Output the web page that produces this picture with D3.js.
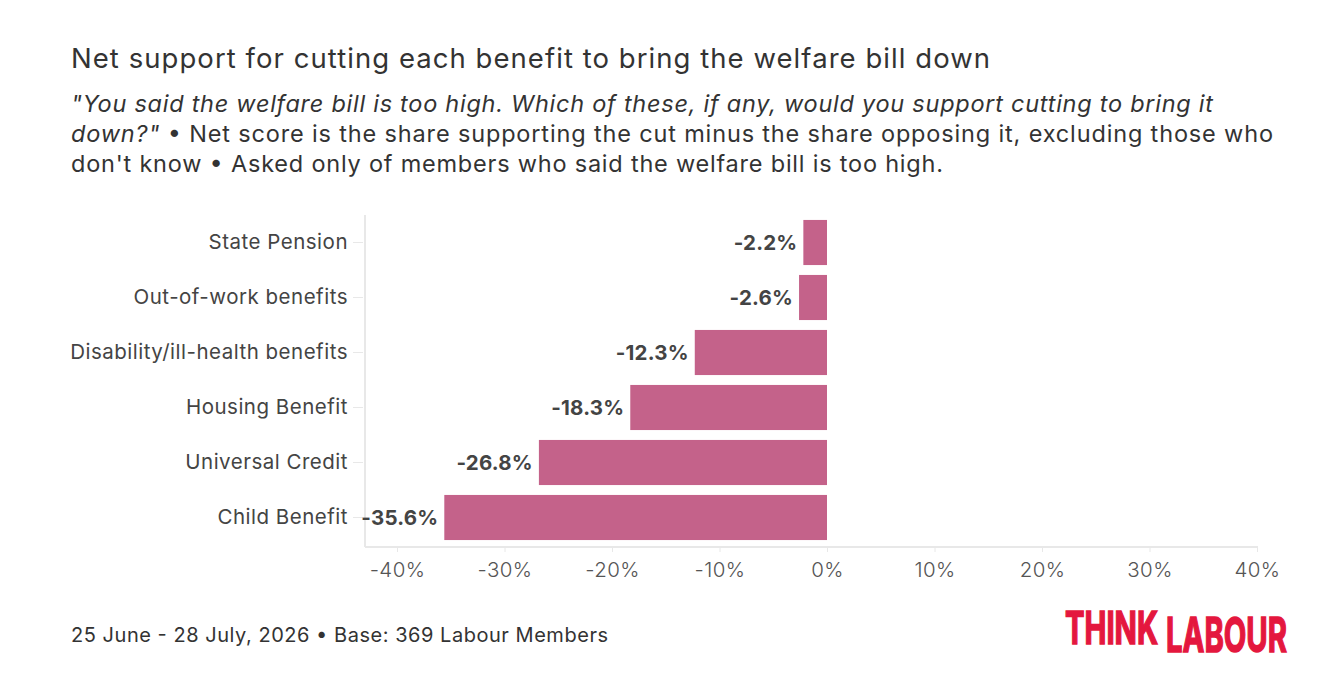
<!DOCTYPE html>
<html>
<head>
<meta charset="utf-8">
<script src="https://cdn.jsdelivr.net/npm/d3@7"></script>
<style>
  body { margin: 0; background: #fff; }
  svg text { font-family: Inter, Roboto, "Noto Sans", sans-serif; }
</style>
</head>
<body>
<svg id="chart" width="1327" height="676"></svg>
<script>
// benefits, top to bottom
var categories = ["State Pension", "Out-of-work benefits", "Disability/ill-health benefits",
  "Housing Benefit", "Universal Credit", "Child Benefit"];
// net score (support minus oppose), percent
var netScores = [-2.2, -2.6, -12.3, -18.3, -26.8, -35.6];
var tickValues = [-40, -30, -20, -10, 0, 10, 20, 30, 40];

var svg = d3.select("#chart");

// title and subtitle
svg.append("text")
  .attr("x", 71).attr("y", 68)
  .attr("font-size", 27.5)
  .attr("fill", "#333")
  .attr("textLength", 919).attr("lengthAdjust", "spacing")
  .text("Net support for cutting each benefit to bring the welfare bill down");

var sub = svg.append("g").attr("font-size", 23.5).attr("fill", "#333");
var l1 = sub.append("text").attr("x", 71).attr("y", 112)
  .attr("textLength", 1142).attr("lengthAdjust", "spacing");
l1.append("tspan").attr("font-style", "italic")
  .text("\"You said the welfare bill is too high. Which of these, if any, would you support cutting to bring it");
var l2 = sub.append("text").attr("x", 71).attr("y", 142)
  .attr("textLength", 1202).attr("lengthAdjust", "spacing");
l2.append("tspan").attr("font-style", "italic").text("down?\"");
l2.append("tspan").text(" \u2022 Net score is the share supporting the cut minus the share opposing it, excluding those who");
sub.append("text").attr("x", 71).attr("y", 172)
  .attr("textLength", 872).attr("lengthAdjust", "spacing")
  .text("don't know \u2022 Asked only of members who said the welfare bill is too high.");

// scales
var x = d3.scaleLinear().domain([-40, 40]).range([397, 1257]);
var y = d3.scaleBand().domain(categories).range([215, 545]).paddingInner(0.18).paddingOuter(0.09);

var axisLeftX = 365;
var axisBottomY = 547;

// axis lines
svg.append("line")
  .attr("x1", axisLeftX).attr("x2", axisLeftX)
  .attr("y1", 215).attr("y2", axisBottomY)
  .attr("stroke", "#e8e8e8").attr("stroke-width", 2);
svg.append("line")
  .attr("x1", axisLeftX).attr("x2", x(40) + 1)
  .attr("y1", axisBottomY).attr("y2", axisBottomY)
  .attr("stroke", "#e8e8e8").attr("stroke-width", 2);

// x axis
var xAxis = svg.append("g")
  .attr("transform", "translate(0," + axisBottomY + ")")
  .call(d3.axisBottom(x).tickValues(tickValues).tickSize(5).tickPadding(10)
    .tickFormat(function(d) { return d + "%"; }));
xAxis.select(".domain").remove();
xAxis.selectAll(".tick line").attr("stroke", "#e8e8e8");
xAxis.selectAll(".tick text")
  .attr("font-size", 20.5).attr("fill", "#555")
  .attr("font-weight", 300)
  .attr("letter-spacing", 0.4)
  .attr("font-family", "Inter, Roboto, sans-serif");

// y axis
var yAxis = svg.append("g")
  .attr("transform", "translate(" + (axisLeftX - 2) + ",0)")
  .call(d3.axisLeft(y).tickSize(10).tickPadding(5));
yAxis.select(".domain").remove();
yAxis.selectAll(".tick line").attr("stroke", "#e8e8e8");
yAxis.selectAll(".tick text")
  .attr("font-size", 20.5).attr("fill", "#444")
  .attr("letter-spacing", 0.5)
  .attr("font-family", "Inter, Roboto, sans-serif");

// bars
svg.selectAll(".bar")
  .data(netScores)
  .enter().append("rect")
  .attr("class", "bar")
  .attr("x", function(d) { return x(Math.min(0, d)); })
  .attr("y", function(d, i) { return y(categories[i]); })
  .attr("width", function(d) { return Math.abs(x(d) - x(0)); })
  .attr("height", y.bandwidth())
  .attr("fill", "#c4628a");

// value labels
svg.selectAll(".barValue")
  .data(netScores)
  .enter().append("text")
  .attr("class", "barValue")
  .attr("x", function(d) { return x(d) - 6; })
  .attr("y", function(d, i) { return y(categories[i]) + y.bandwidth() / 2; })
  .attr("dy", "0.36em")
  .attr("text-anchor", "end")
  .attr("font-size", 20.5).attr("font-weight", 700).attr("fill", "#444")
  .attr("letter-spacing", 0.2)
  .text(function(d) { return d.toFixed(1) + "%"; });

// footer
svg.append("text")
  .attr("x", 71).attr("y", 642)
  .attr("font-size", 20).attr("fill", "#333")
  .attr("textLength", 537).attr("lengthAdjust", "spacing")
  .text("25 June - 28 July, 2026 \u2022 Base: 369 Labour Members");

// logo: condensed heavy wordmark, squeezed to size and thickened with a stroke
var logo = svg.append("g")
  .attr("fill", "#e4173e")
  .attr("stroke", "#e4173e")
  .attr("stroke-width", 1.6)
  .attr("stroke-linejoin", "miter")
  .attr("font-family", "'DejaVu Sans Condensed', 'DejaVu Sans', sans-serif")
  .attr("font-weight", 700);

function wordmark(word, left, baseline, size, width) {
  var t = logo.append("text").attr("font-size", size).text(word);
  var natural = t.node().getComputedTextLength();
  t.attr("transform", "translate(" + left + "," + baseline + ") scale(" + (width / natural) + ",1)");
}
wordmark("THINK", 1065, 644, 45, 93);
wordmark("LABOUR", 1166, 652, 48, 121);
</script>
</body>
</html>
